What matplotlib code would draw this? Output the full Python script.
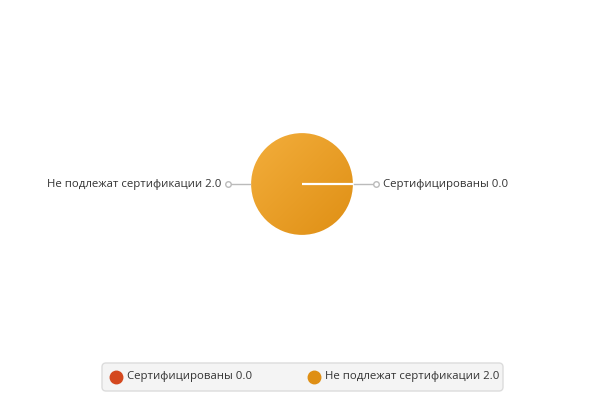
import numpy as np
import matplotlib.pyplot as plt
from matplotlib.patches import FancyBboxPatch
from matplotlib.colors import LinearSegmentedColormap

plt.rcParams['font.family'] = ['Open Sans', 'DejaVu Sans']

labels = ['Сертифицированы', 'Не подлежат сертификации']
values = [0.0, 2.0]
colors = [('#EE6A3E', '#D4481E'), ('#F3AE3C', '#DF8F14')]

fig = plt.figure(figsize=(5.95, 4.0), dpi=100)
ax = fig.add_axes([0, 0, 1, 1])

cx, cy, r = 302, 216, 52
wedges, _ = ax.pie(values, colors=[c[0] for c in colors], center=(cx, cy), radius=r,
                   startangle=0, counterclock=True,
                   wedgeprops=dict(edgecolor='white', linewidth=1.6))

# diagonal gradient (light top-left -> dark bottom-right) clipped to each wedge
g = np.linspace(0, 1, 200)
grad = (g[None, :] + g[:, None]) / 2
for w, (c0, c1) in zip(wedges, colors):
    cmap = LinearSegmentedColormap.from_list('g', [c0, c1])
    im = ax.imshow(grad, cmap=cmap, extent=(cx - r, cx + r, cy - r, cy + r),
                   origin='upper', zorder=w.get_zorder() - 0.1)
    im.set_clip_path(w)
    w.set_facecolor('none')

# labels with leader lines
for w, lab, v in zip(wedges, labels, values):
    ang = np.deg2rad((w.theta1 + w.theta2) / 2)
    dx, dy = np.cos(ang), np.sin(ang)
    ax.plot([cx + dx * r, cx + dx * r * 1.41], [cy + dy * r, cy + dy * r * 1.41],
            color='#BBBBBB', lw=1, zorder=1)
    ax.plot(cx + dx * r * 1.43, cy + dy * r * 1.43, 'o', ms=4, mfc='white',
            mec='#BBBBBB', mew=1, zorder=2)
    ax.text(cx + dx * r * 1.55, cy + dy * r * 1.55, f'{lab} {v:.1f}',
            ha='left' if dx > 0 else 'right', va='center', fontsize=8.2, color='#333333')

ax.set_xlim(0, 595)
ax.set_ylim(0, 400)
ax.set_aspect('auto')
ax.axis('off')

# legend
box = FancyBboxPatch((102, 9), 401, 28, boxstyle='round,pad=0,rounding_size=4',
                     facecolor='#F4F4F4', edgecolor='#DCDCDC', lw=1)
ax.add_patch(box)
for i, (lab, v, (c0, c1)) in enumerate(zip(labels, values, colors)):
    x0 = 116 + i * 198
    ax.plot(x0, 23, 'o', ms=9, color=c1, mec=c1, zorder=5)
    ax.text(x0 + 11, 23, f'{lab} {v:.1f}', ha='left', va='center',
            fontsize=8.2, color='#333333', zorder=5)

fig.savefig('out.png', dpi=100)
